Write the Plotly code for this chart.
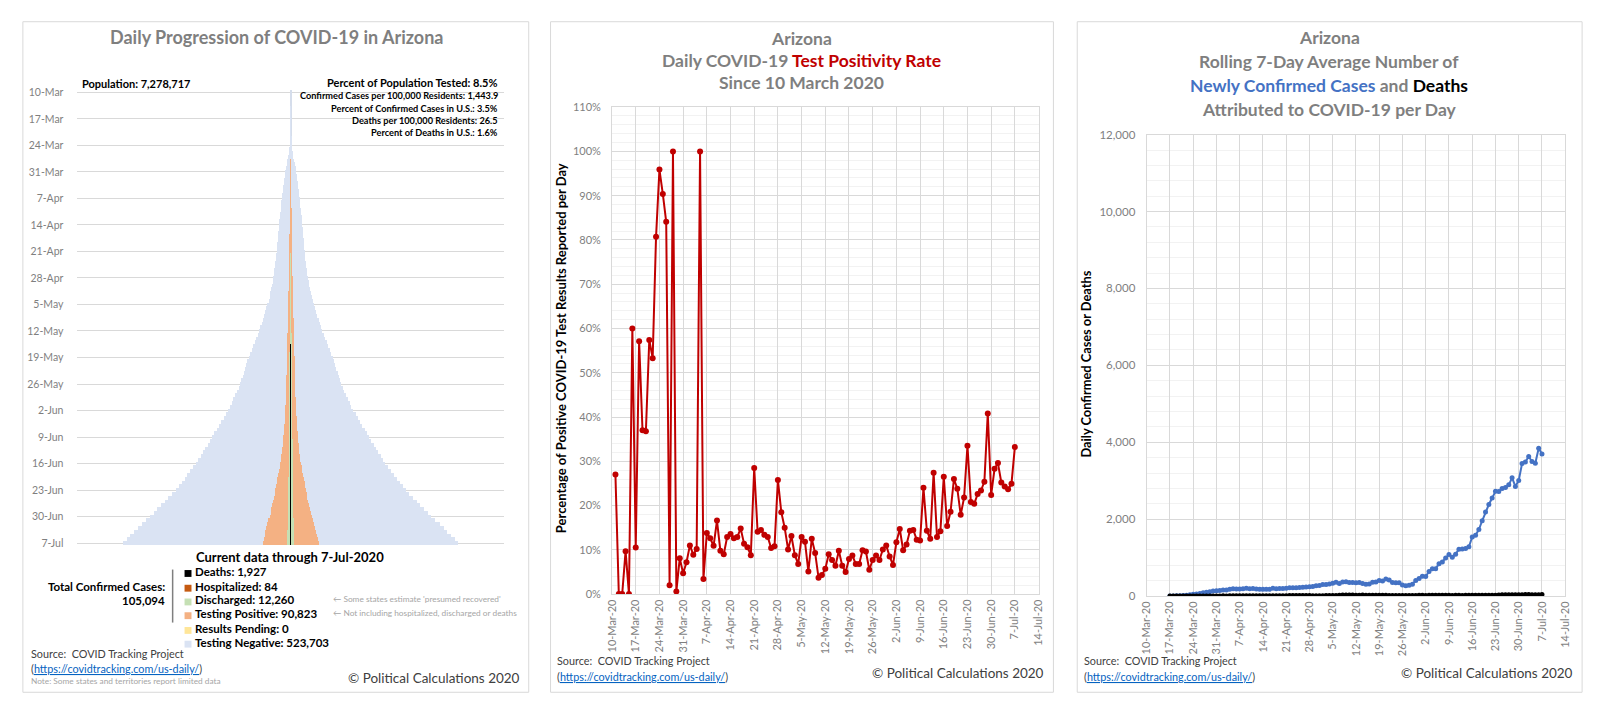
import pandas as pd
import plotly.graph_objects as go

W, H = 1600, 713
FONT = "Lato"

# --- data (Arizona, 10-Mar-2020 .. 7-Jul-2020) ---
DATES = pd.date_range("2020-03-10", "2020-07-07", freq="D")
AVG_DATES = DATES[7:]

# cumulative tests (positive + negative)
TESTED = [300, 400, 500, 650, 800, 950, 1150, 1400, 1700, 2050, 2450, 2850, 3250, 3650, 4100, 5600,
          7500, 9800, 12300, 14900, 18200, 21100,
          22900, 24600, 26400, 28200, 30000, 31800, 33500, 35000, 36400, 37800, 39300, 40700, 42100,
          43400, 44600, 45900, 47200, 48500, 49800, 51000, 52200, 53700, 55300, 57000, 58900, 60800,
          62700, 64700, 67200, 70000,
          73000, 76000, 78800, 82800, 87200, 91500, 95600, 100300, 104800, 109000, 113300, 118000,
          123800, 129600, 135500, 141200, 146800, 152300, 158000, 162600, 167100, 171500, 175800,
          180200, 184500, 189000, 195000, 201300, 207800, 214500, 221300,
          228100, 235000, 243200, 251700, 260000, 268600, 277300, 286100, 295000, 303000, 311300,
          319800, 328400, 337200, 346100, 355000, 365500, 376300, 387200, 398200, 409500, 420700,
          432000, 445500, 459000, 472600, 486300, 500000, 513500, 527000,
          543000, 558500, 573500, 588000, 602000, 615500, 628797]

# cumulative confirmed cases
CONFIRMED = [6, 9, 9, 12, 13, 13, 18, 20, 27, 45, 78, 104, 152, 235, 326, 401, 508, 665, 773, 919,
             1157, 1289,
             1413, 1598, 1769, 2019, 2269, 2456, 2575, 2726, 3018, 3112, 3393, 3539, 3705, 3806, 3964,
             4234, 4511, 4724, 4929, 5064, 5251, 5459, 5769, 6045, 6280, 6526, 6716, 6955, 7202, 7648,
             7962, 8364, 8640, 8924, 9305, 9707, 9945, 10526, 10960, 11119, 11380, 11736, 12176, 12216,
             12674, 13169, 13631, 13937, 14566, 14897, 15315, 15608, 15624, 16039, 16339, 16561, 16783,
             17262, 17763, 18465, 19255,
             19936, 20123, 21250, 22223, 22753, 24332, 25451, 26889, 27678, 28296, 29852, 31264, 32918,
             34660, 36705, 39097, 40924, 43443, 46689, 49798, 52390, 54586, 58179, 59974, 63030, 66458,
             70051, 73908, 74533, 79215,
             84092, 87425, 91858, 94553, 98089, 101441, 105094]

# cumulative discharged
DISCHARGED = [0] * 22 + [0] * 21 + [
    1020, 1090, 1170, 1260, 1330, 1410, 1480, 1560, 1650,
    1720, 1790, 1850, 1930, 2000, 2080, 2150, 2230, 2290, 2360, 2440, 2510, 2580, 2650, 2720, 2800,
    3693, 3760, 3850, 3920, 4010, 4090, 4150, 4230, 4310, 4400, 4480, 4570, 4660, 4740, 4830,
    4920, 5010, 5110, 5190, 5280, 5370, 5460, 5560, 5650, 5740, 5840, 5930, 6020, 6120, 6210, 6310,
    6450, 6600, 6740, 6890, 7030, 7180, 7320, 7470, 7620, 7780, 7950, 8130, 8310, 8500,
    9010, 9560, 10090, 10620, 11150, 11700, 12260]

# cumulative deaths
DEATHS = [0] * 10 + [1, 1, 2, 2, 5, 6, 8, 13, 15, 17, 20, 24,
          29, 41, 41, 52, 64, 65, 73, 80, 89, 97, 108, 115, 122, 131, 142, 150, 169, 180, 184, 191,
          208, 229, 249, 266, 273, 275, 275, 304, 308, 320,
          330, 348, 362, 362, 395, 426, 450, 517, 532, 536, 542, 562, 594, 624, 651, 679, 680, 686,
          704, 725, 747, 763, 770, 775, 775, 800, 806, 834, 861, 891, 906,
          911, 917, 973, 996, 1012, 1042, 1044, 1047, 1076, 1095, 1127, 1144, 1159, 1183, 1186, 1228,
          1250, 1271, 1312, 1322, 1339, 1342, 1384, 1463, 1490, 1535, 1579, 1588, 1594, 1632,
          1720, 1765, 1809, 1825, 1829, 1832, 1927]

# daily test positivity rate, percent
POSITIVITY = [None, 27.0, 0, 0, 9.7, 0, 60.0, 10.5, 57.1, 37.0, 36.8, 57.4, 53.3, 80.7, 95.9, 90.4,
              84.1, 2.0, 100.0, 0.6, 8.1, 4.7,
              7.2, 11.0, 8.9, 10.2, 100.0, 3.4, 13.8, 12.6, 10.9, 16.6, 9.8, 9.0, 12.9, 13.6, 12.6,
              12.9, 14.8, 11.4, 10.6, 8.8, 28.5, 14.1, 14.5, 13.4, 12.9, 10.4, 10.8, 25.8, 18.5, 15.0,
              10.1, 13.1, 8.8, 6.8, 12.9, 11.8, 5.1, 12.5, 9.3, 3.7, 4.3, 5.7, 9.0, 7.7, 6.4, 9.8, 6.4,
              5.0, 7.9, 8.7, 6.8, 6.8, 9.9, 9.6, 5.5, 7.7, 8.7, 7.7, 10.1, 11.0, 8.5,
              6.6, 11.7, 14.7, 9.9, 11.2, 14.3, 14.5, 12.3, 12.1, 24.0, 14.3, 12.5, 27.4, 12.9, 14.2,
              26.5, 15.4, 18.6, 26.0, 23.8, 17.9, 21.8, 33.5, 20.8, 20.4, 22.6, 23.4, 25.4, 40.8, 22.4,
              28.3, 29.6, 25.2, 24.3, 23.7, 24.9, 33.2]

# rolling 7-day averages, 17-Mar .. 7-Jul
CASES_7DAY = [2, 3, 5, 9, 13, 20, 31, 44, 53, 66, 84, 96, 110, 132, 138,
              145, 156, 158, 178, 193, 186, 184, 188, 203, 192, 196, 181, 178, 176, 177, 174, 200, 190,
              199, 194, 206, 214, 219, 219, 222, 228, 236, 243, 249, 268,
              274, 298, 302, 315, 336, 358, 328, 366, 371, 354, 351, 347, 353, 324, 307, 316, 359, 365,
              404, 389, 443, 419, 351, 344, 343, 285, 269, 278, 308, 406, 459,
              514, 509, 638, 709, 713, 838, 885, 993, 1079, 1007, 1090, 1216, 1227, 1240, 1283, 1536,
              1579, 1730, 1958, 2186, 2380, 2548, 2726, 2721, 2798, 2824, 2893, 3074, 2850, 3005,
              3445, 3485, 3629, 3500, 3454, 3844, 3697]
DEATHS_7DAY = [0, 0, 0, 0, 0, 0, 0, 1, 1, 1, 2, 2, 2, 3, 3,
               3, 5, 4, 5, 7, 6, 7, 7, 7, 8, 8, 7, 8, 8, 9, 9, 10, 10, 10, 10, 11, 12, 14, 14, 13, 13,
               12, 14, 11, 10,
               9, 11, 12, 12, 13, 17, 19, 27, 26, 25, 26, 24, 24, 25, 19, 21, 21, 21, 20, 19, 18, 16,
               13, 14, 13, 14, 12, 12, 14, 17, 19,
               19, 17, 24, 23, 22, 22, 20, 19, 23, 17, 19, 19, 17, 20, 20, 22, 22, 21, 24, 23, 22, 22,
               22, 30, 31, 32, 37, 36, 36, 35,
               37, 39, 39, 35, 34, 34, 42]

LEGEND = [("Deaths: 1,927", "#000000"), ("Hospitalized: 84", "#C55A11"),
          ("Discharged: 12,260", "#C5E0B4"), ("Testing Positive: 90,823", "#F4B183"),
          ("Results Pending: 0", "#FFE699"), ("Testing Negative: 523,703", "#DAE3F3")]


def px(x):
    return x / W


def py(y):
    return 1 - y / H


# widths measured outward from the centre line, drawn widest first
inner_green = [d + k for d, k in zip(DISCHARGED, DEATHS)]
layers = [(TESTED, "#DAE3F3"),
          (CONFIRMED, "#F4B183"),
          (inner_green, "#C5E0B4"),
          (DEATHS, "#000000")]

fig = go.Figure()

# left: centred bars (pyramid)
for vals, color in layers:
    fig.add_trace(go.Bar(y=DATES, x=vals, base=[-v / 2 for v in vals], orientation="h",
                         marker=dict(color=color, line=dict(width=0)),
                         xaxis="x", yaxis="y", hoverinfo="skip"))

# middle: positivity
fig.add_trace(go.Scatter(x=DATES, y=[None if v is None else v / 100 for v in POSITIVITY],
                         mode="lines+markers", line=dict(color="#C00000", width=2),
                         marker=dict(size=6, color="#C00000"), xaxis="x2", yaxis="y2"))

# right: 7-day averages
fig.add_trace(go.Scatter(x=AVG_DATES, y=CASES_7DAY, mode="lines+markers",
                         line=dict(color="#4472C4", width=2), marker=dict(size=5, color="#4472C4"),
                         xaxis="x3", yaxis="y3"))
fig.add_trace(go.Scatter(x=AVG_DATES, y=DEATHS_7DAY, mode="lines+markers",
                         line=dict(color="#000000", width=2), marker=dict(size=5, color="#000000"),
                         xaxis="x3", yaxis="y3"))

WEEK = 7 * 24 * 3600 * 1000
TICK_GRAY = "#7F7F7F"
grid = "#D9D9D9"
minor_grid = "#F2F2F2"

fig.update_layout(
    width=W, height=H, margin=dict(l=0, r=0, t=0, b=0),
    paper_bgcolor="white", plot_bgcolor="white",
    barmode="overlay", bargap=0, bargroupgap=0, showlegend=False,
    font=dict(family=FONT),
    xaxis=dict(domain=[px(71), px(501)], range=[-400000, 400000], showgrid=False,
               showticklabels=False, zeroline=True, zerolinecolor="#D5DDEB", zerolinewidth=2,
               anchor="y", fixedrange=True),
    yaxis=dict(domain=[py(548), py(85)], type="date",
               range=["2020-07-07 12:00", "2020-03-09 12:00"],
               tick0="2020-03-10", dtick=WEEK, tickformat="%-d-%b",
               showgrid=True, gridcolor=grid, ticks="", ticklabelstandoff=13,
               tickfont=dict(family=FONT, size=10.5, color=TICK_GRAY), anchor="x", zeroline=False),
    xaxis2=dict(domain=[px(610), px(1040)], type="date", range=["2020-03-10", "2020-07-14"],
                tick0="2020-03-10", dtick=WEEK, tickformat="%-d-%b-%y", tickangle=-90,
                showgrid=True, gridcolor=grid, showline=True, linecolor=grid, mirror=True,
                ticks="", tickfont=dict(family=FONT, size=11, color=TICK_GRAY),
                anchor="y2", zeroline=False),
    yaxis2=dict(domain=[py(598), py(102)], range=[0, 1.1], dtick=0.1, tickformat=".0%",
                showgrid=True, gridcolor=grid, showline=True, linecolor=grid, mirror=True,
                minor=dict(dtick=0.02, showgrid=True, gridcolor=minor_grid),
                ticks="", ticklabelstandoff=8, tickfont=dict(family=FONT, size=11, color=TICK_GRAY),
                anchor="x2", zeroline=False),
    xaxis3=dict(domain=[px(1149), px(1571)], type="date", range=["2020-03-10", "2020-07-14"],
                tick0="2020-03-10", dtick=WEEK, tickformat="%-d-%b-%y", tickangle=-90,
                showgrid=True, gridcolor=grid, showline=True, linecolor=grid, mirror=True,
                ticks="", tickfont=dict(family=FONT, size=11, color=TICK_GRAY),
                anchor="y3", zeroline=False),
    yaxis3=dict(domain=[py(600), py(130)], range=[0, 12000], dtick=2000, tickformat=",",
                showgrid=True, gridcolor=grid, showline=True, linecolor=grid, mirror=True,
                minor=dict(dtick=400, showgrid=True, gridcolor=minor_grid),
                ticks="", ticklabelstandoff=8, tickfont=dict(family=FONT, size=11.5, color=TICK_GRAY),
                anchor="x3", zeroline=False),
)

# panel frames
for x0, x1 in [(16, 526), (548, 1055), (1079, 1588)]:
    fig.add_shape(type="rect", xref="paper", yref="paper", x0=px(x0), x1=px(x1),
                  y0=py(698), y1=py(15), line=dict(color="#D9D9D9", width=1), layer="below")


def note(x, y, text, size, color="#000000", anchor="left", angle=0):
    fig.add_annotation(x=px(x), y=py(y), xref="paper", yref="paper", text=text,
                       showarrow=False, xanchor=anchor, yanchor="middle", textangle=angle,
                       font=dict(family=FONT, size=size, color=color), borderpad=0)


GRAY = "#7F7F7F"
DARK = "#404040"
LINK = "(<span style='color:#0563C1'><u>https://covidtracking.com/us-daily/</u></span>)"

# left panel text
note(272, 31, "<b>Daily Progression of COVID-19 in Arizona</b>", 18, GRAY, "center")
note(75, 78, "<b>Population: 7,278,717</b>", 11)
note(495, 77, "<b>Percent of Population Tested: 8.5%</b>", 11, anchor="right")
for yy, t in zip([90.5, 103.5, 115.5, 127.5],
                 ["Confirmed Cases per 100,000 Residents: 1,443.9",
                  "Percent of Confirmed Cases in U.S.: 3.5%",
                  "Deaths per 100,000 Residents: 26.5",
                  "Percent of Deaths in U.S.: 1.6%"]):
    note(496, yy, "<b>" + t + "</b>", 9.2, anchor="right")
note(285, 560, "<b>Current data through 7-Jul-2020</b>", 13, anchor="center")
for yy, (t, c) in zip([577, 592, 606, 620, 635, 649], LEGEND):
    fig.add_shape(type="rect", xref="paper", yref="paper", x0=px(179), x1=px(186),
                  y0=py(yy + 3.5), y1=py(yy - 3.5), fillcolor=c, line=dict(width=0))
    note(189, yy - 2, "<b>" + t + "</b>", 11.5)
note(160, 590, "<b>Total Confirmed Cases:</b>", 11.5, anchor="right")
note(160, 605, "<b>105,094</b>", 11.5, anchor="right")
fig.add_shape(type="line", xref="paper", yref="paper", x0=px(167), x1=px(167),
              y0=py(627), y1=py(573), line=dict(color="#7F7F7F", width=1.5))
note(328, 603, "\u2190 Some states estimate 'presumed recovered'", 8.3, "#A6A6A6")
note(328, 617, "\u2190 Not including hospitalized, discharged or deaths", 8.3, "#A6A6A6")
note(23, 659, "Source:  COVID Tracking Project", 10.8, DARK)
note(23, 674, LINK, 10.8, DARK)
note(23, 687, "Note: Some states and territories report limited data", 8.3, "#A6A6A6")
note(518, 683, "\u00a9 Political Calculations 2020", 13.5, DARK, "right")

# middle panel text
note(801, 32, "<b>Arizona</b>", 17.5, GRAY, "center")
note(801, 54.5, "<b>Daily COVID-19 <span style='color:#C00000'>Test Positivity Rate</span></b>",
     17.5, GRAY, "center")
note(801, 77, "<b>Since 10 March 2020</b>", 17.5, GRAY, "center")
note(558, 347, "<b>Percentage of Positive COVID-19 Test Results Reported per Day</b>", 13,
     angle=-90, anchor="center")
note(554, 666, "Source:  COVID Tracking Project", 10.8, DARK)
note(554, 682, LINK, 10.8, DARK)
note(1046, 678, "\u00a9 Political Calculations 2020", 13.5, DARK, "right")

# right panel text
note(1333, 31.5, "<b>Arizona</b>", 17.5, GRAY, "center")
note(1333, 55.5, "<b>Rolling 7-Day Average Number of</b>", 17.5, GRAY, "center")
note(1333, 80, "<b><span style='color:#4472C4'>Newly Confirmed Cases</span> and "
               "<span style='color:#000000'>Deaths</span></b>", 17.5, GRAY, "center")
note(1333, 104.5, "<b>Attributed to COVID-19 per Day</b>", 17.5, GRAY, "center")
note(1088, 364, "<b>Daily Confirmed Cases or Deaths</b>", 12.8, angle=-90, anchor="center")
note(1085, 666, "Source:  COVID Tracking Project", 10.8, DARK)
note(1085, 682, LINK, 10.8, DARK)
note(1580, 678, "\u00a9 Political Calculations 2020", 13.5, DARK, "right")

fig.write_html("out.html", config={"displayModeBar": False, "staticPlot": True},
               post_script="document.body.style.margin='0';document.body.style.overflow='hidden';")
